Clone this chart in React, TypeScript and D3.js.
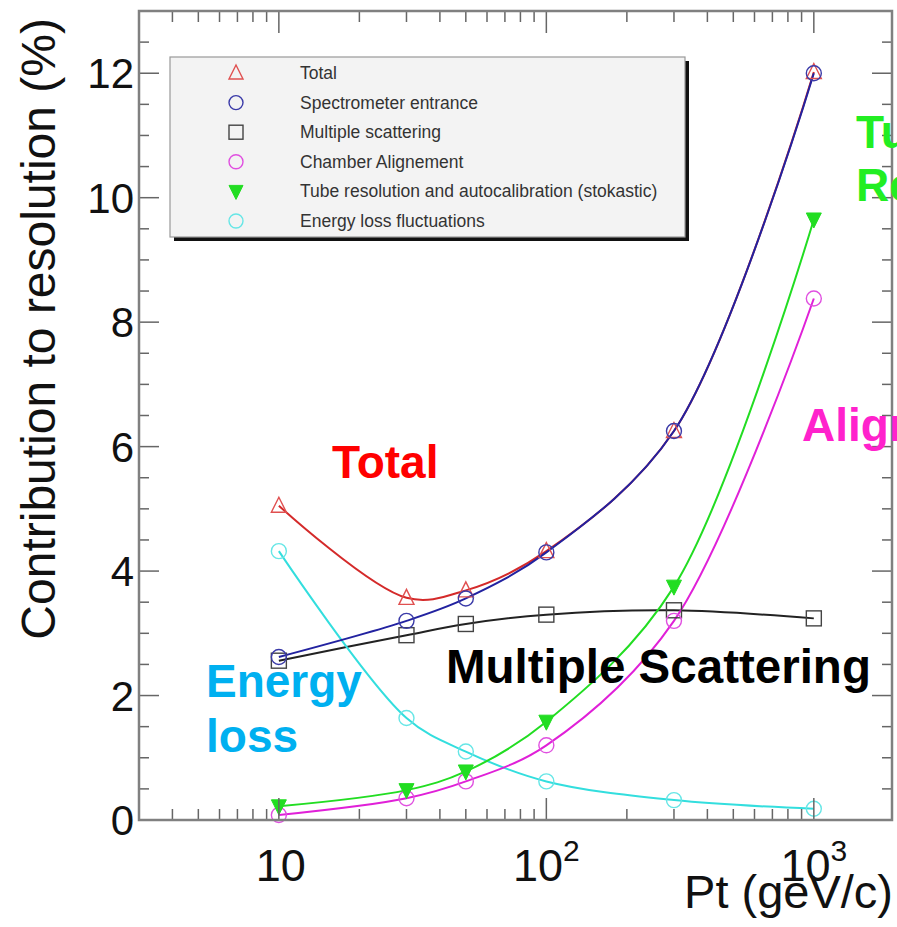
import React from 'react';
import * as d3 from 'd3';

const width = 897;
const height = 927;
const frame = { left: 139, right: 892, top: 11, bottom: 820 };

// Pt points (GeV/c) and each contribution (%)
const ptValues = [10, 30, 50, 100, 300, 1000];
const totalVals = [5.05, 3.57, 3.69, 4.32, 6.25, 12.02];
const spectroVals = [2.62, 3.2, 3.56, 4.3, 6.25, 12.0];
const multScatVals = [2.56, 2.97, 3.15, 3.3, 3.37, 3.24];
const alignVals = [0.08, 0.35, 0.62, 1.2, 3.2, 8.38];
const tubeVals = [0.22, 0.48, 0.78, 1.58, 3.75, 9.65];
const elossVals = [4.32, 1.64, 1.1, 0.62, 0.32, 0.18];

const yTicks = [0, 2, 4, 6, 8, 10, 12];
const xTickLabels = [
  { v: 10, base: '10', exp: '' },
  { v: 100, base: '10', exp: '2' },
  { v: 1000, base: '10', exp: '3' },
];

const legendLabels = [
  'Total',
  'Spectrometer entrance',
  'Multiple scattering',
  'Chamber Alignement',
  'Tube resolution and autocalibration (stokastic)',
  'Energy loss fluctuations',
];

const series = [
  { vals: totalVals, line: '#d42a2a', mark: '#e05050', shape: 'triUp', legend: 0 },
  { vals: multScatVals, line: '#222222', mark: '#444444', shape: 'square', legend: 2 },
  { vals: elossVals, line: '#33dede', mark: '#66e6e6', shape: 'circle', legend: 5 },
  { vals: alignVals, line: '#e020d8', mark: '#e050e0', shape: 'circle', legend: 3 },
  { vals: tubeVals, line: '#22dd22', mark: '#22dd22', shape: 'triDown', legend: 4 },
  { vals: spectroVals, line: '#2222a0', mark: '#3a3aa8', shape: 'circle', legend: 1 },
];

const legendOrder = [0, 5, 1, 3, 4, 2];

const x = d3.scaleLog().domain([3, 1960]).range([frame.left, frame.right]);
const y = d3.scaleLinear().domain([0, 13]).range([frame.bottom, frame.top]);

const font = '"Liberation Sans", Arial, Helvetica, sans-serif';

function Marker({ shape, cx, cy, color, r = 7.5 }: any) {
  if (shape === 'circle') {
    return <circle cx={cx} cy={cy} r={r} fill="none" stroke={color} strokeWidth={1.4} />;
  }
  if (shape === 'square') {
    return <rect x={cx - r} y={cy - r} width={2 * r} height={2 * r} fill="none" stroke={color} strokeWidth={1.4} />;
  }
  if (shape === 'triUp') {
    const p = `${cx},${cy - r - 1} ${cx - r},${cy + r - 1} ${cx + r},${cy + r - 1}`;
    return <polygon points={p} fill="none" stroke={color} strokeWidth={1.4} />;
  }
  const p = `${cx - r},${cy - r + 1} ${cx + r},${cy - r + 1} ${cx},${cy + r + 1}`;
  return <polygon points={p} fill={color} stroke={color} strokeWidth={1} />;
}

export default function App() {
  const line = d3
    .line<number>()
    .x((_, i) => x(ptValues[i]))
    .y((d) => y(d))
    .curve(d3.curveCatmullRom.alpha(0.5));

  // log ticks 4..2000
  const logTicks: { v: number; major: boolean }[] = [];
  for (const dec of [1, 10, 100, 1000]) {
    for (let m = 1; m <= 9; m++) {
      const v = dec * m;
      if (v >= 3 && v <= 1960) logTicks.push({ v, major: m === 1 });
    }
  }
  const yMinor = d3.range(0, 13.01, 0.5);

  const tickColor = '#666';

  return (
    <svg
      width={width}
      height={height}
      style={{ position: 'absolute', left: 0, top: 0, background: '#fff' }}
      fontFamily={font}
    >
      {/* curves */}
      {series.map((s, i) => (
        <path key={'l' + i} d={line(s.vals) || ''} fill="none" stroke={s.line} strokeWidth={2} />
      ))}
      {/* markers */}
      {series.map((s, i) =>
        s.vals.map((v, j) => (
          <Marker key={`m${i}-${j}`} shape={s.shape} cx={x(ptValues[j])} cy={y(v)} color={s.mark} />
        ))
      )}

      {/* ticks */}
      {yMinor.map((v) => {
        const major = yTicks.includes(v);
        const len = major ? 20 : 10;
        return (
          <g key={'yt' + v} stroke={tickColor} strokeWidth={1.5}>
            <line x1={frame.left} x2={frame.left + len} y1={y(v)} y2={y(v)} />
            <line x1={frame.right} x2={frame.right - len} y1={y(v)} y2={y(v)} />
          </g>
        );
      })}
      {logTicks.map((t) => {
        const len = t.major ? 22 : 11;
        return (
          <g key={'xt' + t.v} stroke={tickColor} strokeWidth={1.5}>
            <line x1={x(t.v)} x2={x(t.v)} y1={frame.bottom} y2={frame.bottom - len} />
            <line x1={x(t.v)} x2={x(t.v)} y1={frame.top} y2={frame.top + len} />
          </g>
        );
      })}

      {/* frame */}
      <rect
        x={frame.left}
        y={frame.top}
        width={frame.right - frame.left}
        height={frame.bottom - frame.top}
        fill="none"
        stroke="#808080"
        strokeWidth={2.5}
      />

      {/* y tick labels */}
      {yTicks.map((v) => (
        <text key={'yl' + v} x={134} y={y(v) + 15} fontSize={42} textAnchor="end" fill="#111">
          {v}
        </text>
      ))}
      {/* x tick labels */}
      {xTickLabels.map((t) => (
        <text key={'xl' + t.v} x={x(t.v) + (t.exp ? 0 : 2)} y={881} fontSize={45} textAnchor="middle" fill="#111">
          {t.base}
          {t.exp && (
            <tspan dy={-20} fontSize={30}>
              {t.exp}
            </tspan>
          )}
        </text>
      ))}

      {/* axis titles */}
      <text x={893} y={908} fontSize={47} textAnchor="end" fill="#111">
        Pt (geV/c)
      </text>
      <text transform="translate(55,18) rotate(-90)" fontSize={48} textAnchor="end" fill="#111">
        Contribution to resolution (%)
      </text>

      {/* legend */}
      <rect x={174} y={61} width={515} height={180} fill="#111" />
      <rect x={170} y={57} width={515} height={180} fill="#f3f3f3" stroke="#999" strokeWidth={1.2} />
      {legendOrder.map((si, row) => {
        const s = series[si];
        const cy = 73 + row * 29.6;
        return (
          <g key={'lg' + row}>
            <Marker shape={s.shape} cx={236} cy={cy} color={s.mark} r={7} />
            <text x={300} y={cy + 6} fontSize={17.5} fill="#333">
              {legendLabels[s.legend]}
            </text>
          </g>
        );
      })}

      {/* annotations */}
      <g fontWeight="bold" fontSize={46}>
        <text x={332} y={478} fill="#ff0000">Total</text>
        <text x={446} y={683} fill="#000" fontSize={47.5}>Multiple Scattering</text>
        <text x={206} y={697} fill="#00b0f0">Energy</text>
        <text x={206} y={752} fill="#00b0f0">loss</text>
        <text x={856} y={148} fill="#22ee22">Tube</text>
        <text x={856} y={201} fill="#22ee22">Resolution</text>
        <text x={802} y={441} fill="#ff22cc">Alignment</text>
      </g>
    </svg>
  );
}
